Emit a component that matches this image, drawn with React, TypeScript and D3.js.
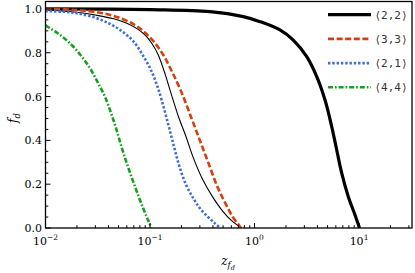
import React from "react";
import * as d3 from "d3";

// ---- data ----
const z22 = [0.01, 0.1, 0.375, 0.78, 1.13, 1.75, 2.35, 3.16, 3.94, 4.73, 5.48, 6.12, 6.83, 7.9, 9.16, 9.7, 10.1];
const f22 = [1.0, 0.997, 0.988, 0.965, 0.942, 0.904, 0.858, 0.782, 0.691, 0.584, 0.463, 0.356, 0.25, 0.143, 0.059, 0.025, 0.0];

const z33 = [0.01, 0.02, 0.04, 0.07, 0.1, 0.13, 0.16, 0.2, 0.25, 0.3, 0.36, 0.44, 0.53, 0.62, 0.7, 0.74];
const f33 = [1.0, 0.995, 0.975, 0.93, 0.87, 0.8, 0.72, 0.62, 0.5, 0.4, 0.3, 0.19, 0.11, 0.05, 0.017, 0.0];

const z21 = [0.01, 0.015, 0.02, 0.03, 0.042, 0.055, 0.07, 0.085, 0.1, 0.115, 0.13, 0.15, 0.17, 0.19, 0.22, 0.26, 0.3, 0.36, 0.42, 0.47];
const f21 = [0.99, 0.987, 0.98, 0.96, 0.93, 0.895, 0.85, 0.79, 0.73, 0.66, 0.58, 0.47, 0.37, 0.285, 0.2, 0.135, 0.09, 0.05, 0.02, 0.0];

const z44 = [0.01, 0.013, 0.017, 0.022, 0.027, 0.032, 0.037, 0.042, 0.047, 0.053, 0.06, 0.068, 0.077, 0.086, 0.095, 0.103];
const f44 = [0.925, 0.89, 0.845, 0.785, 0.725, 0.66, 0.6, 0.53, 0.46, 0.375, 0.295, 0.22, 0.15, 0.09, 0.04, 0.0];

const zThin = [0.01, 0.02, 0.03, 0.045, 0.06, 0.075, 0.09, 0.105, 0.12, 0.14, 0.16, 0.19, 0.22, 0.26, 0.32, 0.4, 0.5, 0.6, 0.7, 0.75];
const fThin = [0.995, 0.985, 0.972, 0.955, 0.935, 0.91, 0.88, 0.84, 0.79, 0.7, 0.61, 0.5, 0.42, 0.32, 0.22, 0.14, 0.075, 0.035, 0.01, 0.0];

const legendLabels = ["⟨2,2⟩", "⟨3,3⟩", "⟨2,1⟩", "⟨4,4⟩"];
const yTicks = [0, 0.2, 0.4, 0.6, 0.8, 1.0];
const xMajor = [0.01, 0.1, 1, 10];
const xTickExp = ["−2", "−1", "0", "1"];

const W = 415, H = 273;
const L = 45.5, R = 412, T = 1.5, B = 228;

export default function App() {
  const x = d3.scaleLog().domain([0.01, Math.pow(10, 1.507)]).range([L, R]);
  const y = d3.scaleLinear().domain([0, 1.034]).range([B, T]);
  const line = d3
    .line<[number, number]>()
    .x((d) => x(d[0]))
    .y((d) => y(d[1]))
    .curve(d3.curveCatmullRom.alpha(0.5));
  const mk = (zs: number[], fs: number[]) => line(zs.map((z, i) => [z, fs[i]] as [number, number])) || "";

  const series = [
    { d: mk(z22, f22), color: "#000000", width: 3.2, dash: "none" },
    { d: mk(z33, f33), color: "#d4400f", width: 2.6, dash: "6,2.6" },
    { d: mk(z21, f21), color: "#3d6fd6", width: 2.6, dash: "2.4,1.9" },
    { d: mk(z44, f44), color: "#15a01c", width: 2.6, dash: "5,2,1.6,2" },
  ];

  const xMinor: number[] = [];
  for (let e = -2; e <= 1; e++) {
    for (let k = 2; k <= 9; k++) {
      const v = k * Math.pow(10, e);
      if (v < x.domain()[1]) xMinor.push(v);
    }
  }
  const yMinor: number[] = [];
  for (let i = 0; i <= 20; i++) {
    const v = i * 0.05;
    if (i % 4 !== 0) yMinor.push(v);
  }

  const serif = "'DejaVu Serif', serif";

  return (
    <svg width={W} height={H} style={{ display: "block", position: "absolute", left: 0, top: 0 }}>
      <rect x={0} y={0} width={W} height={H} fill="#fff" />
      <defs>
        <clipPath id="plotclip">
          <rect x={L} y={T} width={R - L} height={B - T} />
        </clipPath>
      </defs>
      <g clipPath="url(#plotclip)">
        <path d={mk(zThin, fThin)} fill="none" stroke="#000" strokeWidth={1.1} />
        {series.map((s, i) => (
          <path key={i} d={s.d} fill="none" stroke={s.color} strokeWidth={s.width} strokeDasharray={s.dash} />
        ))}
      </g>
      {/* ticks */}
      <g stroke="#000" strokeWidth={1}>
        {xMajor.map((v, i) => (
          <line key={"xm" + i} x1={x(v)} x2={x(v)} y1={B} y2={B - 5} />
        ))}
        {xMinor.map((v, i) => (
          <line key={"xn" + i} x1={x(v)} x2={x(v)} y1={B} y2={B - 2.8} />
        ))}
        {yTicks.map((v, i) => (
          <line key={"ym" + i} x1={L} x2={L + 5} y1={y(v)} y2={y(v)} />
        ))}
        {yMinor.map((v, i) => (
          <line key={"yn" + i} x1={L} x2={L + 2.8} y1={y(v)} y2={y(v)} />
        ))}
      </g>
      {/* frame */}
      <rect x={L} y={T} width={R - L} height={B - T} fill="none" stroke="#000" strokeWidth={1.3} />
      {/* y tick labels */}
      {yTicks.map((v, i) => (
        <text key={"yl" + i} x={L - 3.5} y={y(v) + (i === 0 ? 3.5 : 4)} textAnchor="end" fontFamily={serif} fontSize={11} fill="#000">
          {v.toFixed(1)}
        </text>
      ))}
      {/* x tick labels */}
      {xMajor.map((v, i) => (
        <text key={"xl" + i} x={x(v)} y={244.5} textAnchor="middle" fontFamily={serif} fontSize={11} fill="#000">
          10
          <tspan fontSize={7.5} dy={-4.5}>{xTickExp[i]}</tspan>
        </text>
      ))}
      {/* axis labels */}
      <text x={228} y={265} textAnchor="middle" fontFamily={serif} fontSize={12} fontStyle="italic">
        z
        <tspan fontSize={8.5} dy={3}>f</tspan>
        <tspan fontSize={6.5} dy={2}>d</tspan>
      </text>
      <text transform="translate(17,118) rotate(-90)" textAnchor="middle" fontFamily={serif} fontSize={12} fontStyle="italic">
        f
        <tspan fontSize={8.5} dy={2.5}>d</tspan>
      </text>
      {/* legend */}
      {series.map((s, i) => {
        const ly = 14.7 + i * 24.2;
        return (
          <g key={"lg" + i}>
            <line x1={328} x2={371} y1={ly} y2={ly} stroke={s.color} strokeWidth={s.width} strokeDasharray={s.dash} />
            <text x={374.5} y={ly + 4} fontFamily="'DejaVu Sans Mono', monospace" fontSize={11} fill="#333">
              {legendLabels[i]}
            </text>
          </g>
        );
      })}
    </svg>
  );
}
